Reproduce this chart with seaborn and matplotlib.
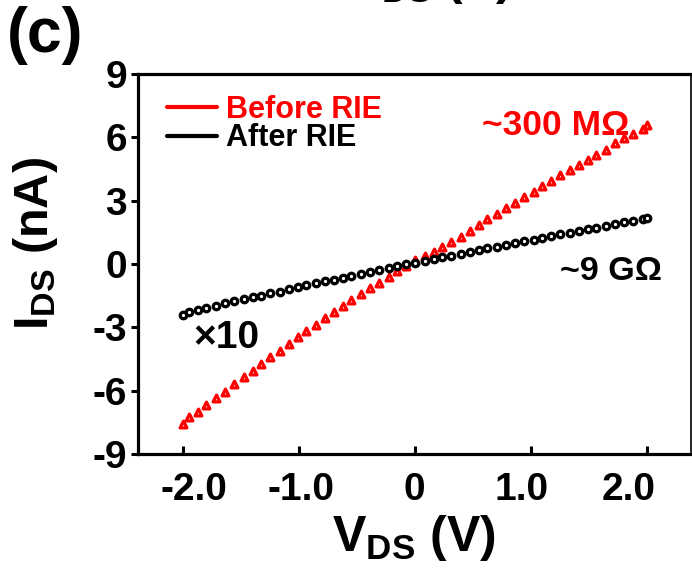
import matplotlib
matplotlib.use("Agg")
import matplotlib.pyplot as plt
from matplotlib.lines import Line2D
from matplotlib.transforms import ScaledTranslation
import seaborn as sns

# Drain-source sweep (V) and measured currents (nA); "After RIE" is shown x10
v_ds = [-2.00, -1.95, -1.87, -1.80, -1.72, -1.64, -1.56, -1.48, -1.40, -1.33,
        -1.25, -1.17, -1.09, -1.01, -0.94, -0.86, -0.78, -0.70, -0.62, -0.55,
        -0.47, -0.39, -0.31, -0.23, -0.16, -0.08, 0.00, 0.08, 0.16, 0.23,
        0.31, 0.39, 0.47, 0.55, 0.62, 0.70, 0.78, 0.86, 0.94, 1.02,
        1.09, 1.17, 1.25, 1.33, 1.41, 1.49, 1.56, 1.64, 1.72, 1.80,
        1.88, 1.96, 2.00]

i_before = [-7.58, -7.27, -7.00, -6.68, -6.37, -6.05, -5.70, -5.37, -5.06, -4.74,
            -4.42, -4.11, -3.79, -3.47, -3.16, -2.89, -2.57, -2.26, -2.01, -1.71,
            -1.42, -1.14, -0.90, -0.63, -0.33, -0.08, 0.20, 0.37, 0.56, 0.80,
            1.03, 1.28, 1.55, 1.85, 2.11, 2.37, 2.64, 2.89, 3.16, 3.40,
            3.68, 3.95, 4.22, 4.45, 4.69, 4.93, 5.17, 5.42, 5.72, 5.96,
            6.16, 6.40, 6.60]

i_after_x10 = [-2.42, -2.26, -2.16, -2.09, -1.98, -1.87, -1.77, -1.66, -1.58, -1.50,
               -1.39, -1.31, -1.20, -1.10, -0.99, -0.91, -0.82, -0.74, -0.66, -0.55,
               -0.46, -0.39, -0.27, -0.17, -0.08, 0.00, 0.07, 0.16, 0.24, 0.32,
               0.39, 0.47, 0.58, 0.66, 0.74, 0.82, 0.90, 0.99, 1.07, 1.15,
               1.23, 1.31, 1.41, 1.49, 1.56, 1.64, 1.72, 1.82, 1.88, 1.97,
               2.04, 2.13, 2.18]

series_labels = ["Before RIE", "After RIE"]
series_colors = ["#ff0000", "#000000"]

x_ticks = [-2.0, -1.0, 0.0, 1.0, 2.0]
x_tick_labels = ["-2.0", "-1.0", "0", "1.0", "2.0"]
y_ticks = [-9, -6, -3, 0, 3, 6, 9]
y_tick_labels = ["-9", "-6", "-3", "0", "3", "6", "9"]

sns.set_style("white")
FONT = "Liberation Sans"
plt.rcParams["font.family"] = [FONT, "DejaVu Sans"]
plt.rcParams["font.weight"] = "bold"
plt.rcParams["text.color"] = "black"
plt.rcParams["axes.labelcolor"] = "black"
plt.rcParams["xtick.color"] = "black"
plt.rcParams["ytick.color"] = "black"
plt.rcParams["axes.unicode_minus"] = False
plt.rcParams["mathtext.fontset"] = "custom"
plt.rcParams["mathtext.rm"] = f"{FONT}:bold"
plt.rcParams["mathtext.bf"] = f"{FONT}:bold"
plt.rcParams["mathtext.it"] = f"{FONT}:bold"

fig = plt.figure(figsize=(6.92, 5.71), dpi=100)
ax = fig.add_axes([138 / 692, 117 / 571, 552.5 / 692, 380 / 571])

sns.scatterplot(x=v_ds, y=i_before, ax=ax, marker="^", s=24,
                facecolor="white", edgecolor=series_colors[0], linewidth=2.3,
                zorder=3, legend=False)
sns.scatterplot(x=v_ds, y=i_after_x10, ax=ax, marker="o", s=22,
                facecolor="white", edgecolor=series_colors[1], linewidth=2.3,
                zorder=4, legend=False)

ax.set_xlim(-2.39, 2.372)
ax.set_ylim(-9, 9)

# Frame
for side in ["left", "bottom", "top"]:
    ax.spines[side].set_linewidth(2.3)
    ax.spines[side].set_color("black")
ax.spines["right"].set_linewidth(1.4)
ax.spines["right"].set_color("#222222")

ax.set_xticks(x_ticks, x_tick_labels)
ax.set_yticks(y_ticks, y_tick_labels)
ax.tick_params(axis="x", direction="in", length=6, width=2.2, pad=13,
               labelsize=28, bottom=True, top=False, colors="black")
ax.tick_params(axis="y", direction="out", length=5, width=2.2, pad=3,
               labelsize=28, left=True, right=False, colors="black")

# Tick labels sit on a slightly tighter spacing than the ticks themselves
label_shift_px = [11, 2, -1, -10, -19]
for lab, dx in zip(ax.get_xticklabels(), label_shift_px):
    lab.set_transform(lab.get_transform() +
                      ScaledTranslation(dx / 100, 0, fig.dpi_scale_trans))

ax.set_xlabel(r"$\mathbf{V_{DS}}$ (V)", fontsize=36, fontweight="bold")
ax.xaxis.set_label_coords(0.5, -0.155)
ax.xaxis.label.set_verticalalignment("top")
ax.set_ylabel(r"$\mathbf{I_{DS}}$ (nA)", fontsize=35, fontweight="bold")
ax.yaxis.set_label_coords(-0.141, 0.555)

# Legend (line handles only)
handles = [Line2D([], [], color=c, lw=3) for c in series_colors]
ax.legend(handles, series_labels, loc="upper left",
          bbox_to_anchor=(0.052, 0.945), frameon=False, borderpad=0,
          borderaxespad=0, handlelength=1.65, handletextpad=0.28,
          labelspacing=-0.05, labelcolor="linecolor",
          prop={"family": FONT, "weight": "bold", "size": 22})

# Resistance annotations
ax.text(0.622, 0.8395, "~300 M\u03a9", transform=ax.transAxes, color="#ff0000",
        fontsize=25.5, fontweight="bold", ha="left", va="baseline")
ax.text(0.7638, 0.4579, "~9 G\u03a9", transform=ax.transAxes, color="black",
        fontsize=24.5, fontweight="bold", ha="left", va="baseline")
ax.text(0.0995, 0.279, "\u00d710", transform=ax.transAxes, color="black",
        fontsize=28, fontweight="bold", ha="left", va="baseline")

# Panel tag and the axis title of the panel above
fig.text(7 / 692, 1 - 52 / 571, "(c)", fontsize=45, fontweight="bold",
         ha="left", va="baseline")
fig.text(430 / 692, 1 - 6 / 571, r"$\mathbf{V_{DS}}$ (V)", fontsize=36,
         fontweight="bold", ha="center", va="bottom")

fig.savefig("out.png", dpi=100, facecolor="white")
